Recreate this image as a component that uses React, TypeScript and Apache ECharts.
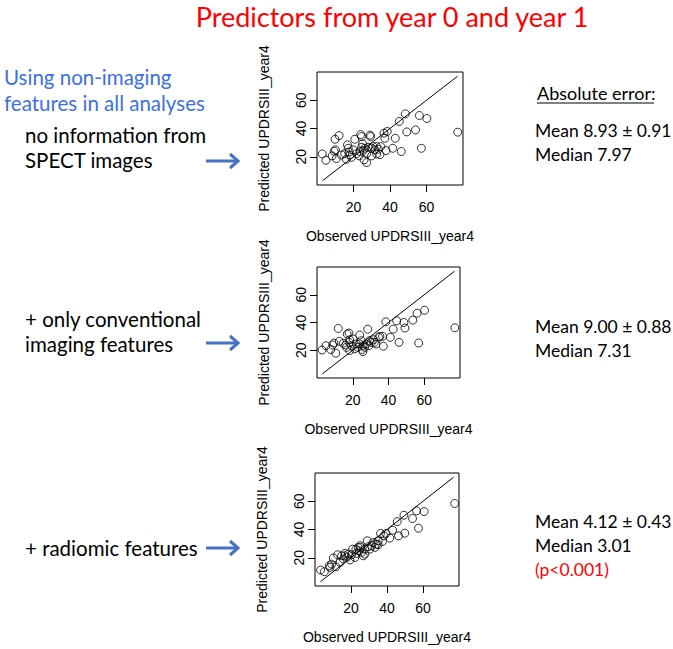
import React, { useEffect, useRef } from "react";
import * as echarts from "echarts";

// ---- data ----
const observed1 = [2.9,4.9,8.3,9.4,10.1,10.6,9.9,12.1,13.4,16.1,16.7,17.1,17.6,18,18.9,19.8,20.7,23.1,23.9,24.4,24.4,25,25.3,25.8,27.2,29,29.4,29.9,30.8,31.7,32.7,34.5,34.9,36.7,37.2,37.8,38.5,41.5,42.9,45.1,46.2,48.4,49.2,54,56.1,57.2,60.2,77.1,15.2,21.7,23.5,26.2,28,32.7,33.6,27.2,29.9];
const predicted1 = [22,17.5,20.6,23.9,24.9,18.7,32.4,35,21.3,18.2,28.4,26,23.4,21.3,19.6,24.9,32.4,20.6,35.7,34.3,26.7,29.1,24.4,17.8,15.9,35.3,34.3,26,27.2,24.9,22,21.5,27.2,36.7,33.1,24.4,37.9,26,33.1,45,23.7,50.4,37.6,39,49.2,26,47.1,37.4,22.2,22.2,23.7,26,26.7,27.2,25.3,22.2,20.6];

const observed2 = [2.8,5,7.7,8.8,9.5,10.5,11.9,12.5,16.1,16.9,17.9,18.3,18,19.3,20.2,22,23.9,24.8,25.3,25.7,26.6,28.4,29.4,30.3,31.6,33,34.5,35.2,36.7,37.1,38.5,41,42.6,44.6,45.9,48.6,49.2,53.6,56,56.9,60.2,77.1,14.7,16.5,21.1,22.9,23.9,27.5,25.7,32.1,29,18.3];
const predicted2 = [20.2,23.3,20.5,23.8,25.2,17.9,35.7,26.4,23.8,31.7,32.4,19.8,25.7,23.3,28.1,24.5,31,26.9,20.5,19,22.1,35.2,26.9,25.7,27.6,24.5,29.3,30,30,22.9,40.5,29.3,35.2,41.2,25.7,40,36,41.7,46.7,25.2,48.8,36.2,25,22.1,21,22.1,24.5,24.5,23.3,25.7,23.3,27.6];

const observed3 = [3.1,5.2,7.9,9.2,10.2,11.6,12.6,13.9,15.7,16.6,17.6,18.5,19.4,20.9,22.2,23.1,24,25,25.9,26.8,27.7,29,29.6,31.4,32.3,34.2,35.1,36.4,37.5,39.4,41.6,43.1,45.7,46.4,49.4,49.9,54.2,56.4,57.5,60.6,77.6,14.8,16.6,20.3,22.7,24.6,25.3,27.7,30.5,33.3,35.1,38.3,8.3];
const predicted3 = [11.3,10.1,14.4,15.5,19.8,13.6,22.1,16.7,19.1,21.4,20.2,22.6,18.4,26.1,20.2,23.1,27.3,28.5,23.8,21.4,26.1,32,27.8,28.5,30.8,29.6,32,37.2,31.5,37.2,33.9,39.5,45.6,35.5,50.1,37.4,47.8,53.2,40.9,52.7,58.4,21.4,23.1,22.1,26.1,24.9,27.3,22.6,26.1,27.3,29.2,35.5,13.2];

const identityLine = [3, 77];
const tickValues = [20, 40, 60];
const axisRange = [0, 80];

const titleText = "Predictors from year 0 and year 1";
const xAxisTitle = "Observed UPDRSIII_year4";
const yAxisTitle = "Predicted UPDRSIII_year4";
const introLines = ["Using non-imaging", "features in all analyses"];
const analysisLabels = [
  ["no information from", "SPECT images"],
  ["+ only conventional", "imaging features"],
  ["+ radiomic features"],
];
const errorHeader = "Absolute error:";
const meanTexts = ["Mean 8.93 \u00b1 0.91", "Mean 9.00 \u00b1 0.88", "Mean 4.12 \u00b1 0.43"];
const medianTexts = ["Median 7.97", "Median 7.31", "Median 3.01"];
const pValueText = "(p<0.001)";

const observedSets = [observed1, observed2, observed3];
const predictedSets = [predicted1, predicted2, predicted3];

// layout (pixels)
const grids = [
  { left: 317, top: 72, width: 146, height: 113 },
  { left: 317, top: 267, width: 143, height: 111 },
  { left: 315, top: 473, width: 144, height: 113 },
];
const labelTops = [[135, 160], [319, 344], [548]];
const arrowYs = [161, 343, 548];
const meanYs = [130, 326, 521];

const BLUE_TEXT = "#3C6FE6";
const ARROW = "#4472C4";
const FONT = "Lato";
const RFONT = "Liberation Sans";

export default function App() {
  const ref = useRef<HTMLDivElement>(null);
  useEffect(() => {
    document.body.style.margin = "0";
    const chart = echarts.init(ref.current!, undefined, { renderer: "svg" });

    const xAxes: any[] = [];
    const yAxes: any[] = [];
    const series: any[] = [];
    grids.forEach((g, i) => {
      const common = {
        type: "value",
        gridIndex: i,
        min: axisRange[0],
        max: axisRange[1],
        interval: 20,
        axisLine: { show: false },
        splitLine: { show: false },
        axisTick: { show: true, length: 7, customValues: tickValues, lineStyle: { color: "#000", width: 1 } },
        nameLocation: "middle",
        nameTextStyle: { fontFamily: RFONT, fontSize: 14, color: "#000" },
      };
      xAxes.push({
        ...common,
        name: xAxisTitle,
        nameGap: 44,
        axisLabel: { customValues: tickValues, fontFamily: RFONT, fontSize: 14, color: "#000", margin: 15 },
      });
      yAxes.push({
        ...common,
        name: yAxisTitle,
        nameGap: 46,
        axisLabel: { customValues: tickValues, rotate: 90, fontFamily: RFONT, fontSize: 14, color: "#000", margin: 9 },
      });
      series.push({
        type: "scatter",
        xAxisIndex: i,
        yAxisIndex: i,
        symbol: "circle",
        symbolSize: 8,
        itemStyle: { color: "rgba(0,0,0,0)", borderColor: "#000", borderWidth: 1 },
        data: observedSets[i].map((x, k) => [x, predictedSets[i][k]]),
      });
      series.push({
        type: "line",
        xAxisIndex: i,
        yAxisIndex: i,
        showSymbol: false,
        symbol: "none",
        lineStyle: { color: "#000", width: 1 },
        data: identityLine.map((v) => [v, v]),
      });
    });

    const graphics: any[] = [];
    graphics.push({
      type: "text", x: 392, y: 16,
      style: { text: titleText, fill: "#FF0000", font: `27px ${FONT}`, textAlign: "center", textVerticalAlign: "middle" },
    });
    introLines.forEach((t, k) => {
      graphics.push({
        type: "text", x: 4, y: 77 + k * 26,
        style: { text: t, fill: BLUE_TEXT, font: `20.5px ${FONT}`, textAlign: "left", textVerticalAlign: "middle" },
      });
    });
    analysisLabels.forEach((lines, i) => {
      lines.forEach((t, k) => {
        graphics.push({
          type: "text", x: 25, y: labelTops[i][k],
          style: { text: t, fill: "#000", font: `20.5px ${FONT}`, textAlign: "left", textVerticalAlign: "middle" },
        });
      });
      const y = arrowYs[i];
      graphics.push({ type: "line", shape: { x1: 206, y1: y, x2: 238, y2: y }, style: { stroke: ARROW, lineWidth: 3 } });
      graphics.push({
        type: "polyline",
        shape: { points: [[230, y - 7], [238, y], [230, y + 7]] },
        style: { stroke: ARROW, lineWidth: 3, fill: null },
      });
    });
    graphics.push({
      type: "text", x: 537, y: 93,
      style: { text: errorHeader, fill: "#000", font: `18px ${FONT}`, textAlign: "left", textVerticalAlign: "middle" },
    });
    graphics.push({ type: "line", shape: { x1: 537, y1: 103, x2: 654, y2: 103 }, style: { stroke: "#000", lineWidth: 1 } });
    meanTexts.forEach((t, i) => {
      graphics.push({
        type: "text", x: 535, y: meanYs[i],
        style: { text: t, fill: "#000", font: `17.5px ${FONT}`, textAlign: "left", textVerticalAlign: "middle" },
      });
      graphics.push({
        type: "text", x: 535, y: meanYs[i] + 24,
        style: { text: medianTexts[i], fill: "#000", font: `17.5px ${FONT}`, textAlign: "left", textVerticalAlign: "middle" },
      });
    });
    graphics.push({
      type: "text", x: 535, y: meanYs[2] + 48,
      style: { text: pValueText, fill: "#FF0000", font: `17.5px ${FONT}`, textAlign: "left", textVerticalAlign: "middle" },
    });

    chart.setOption({
      animation: false,
      backgroundColor: "#fff",
      grid: grids.map((g) => ({ ...g, show: true, borderColor: "#000", borderWidth: 1, backgroundColor: "transparent", containLabel: false })),
      xAxis: xAxes,
      yAxis: yAxes,
      series,
      graphic: graphics,
    });
    return () => chart.dispose();
  }, []);
  return <div ref={ref} style={{ width: 673, height: 649 }} />;
}
